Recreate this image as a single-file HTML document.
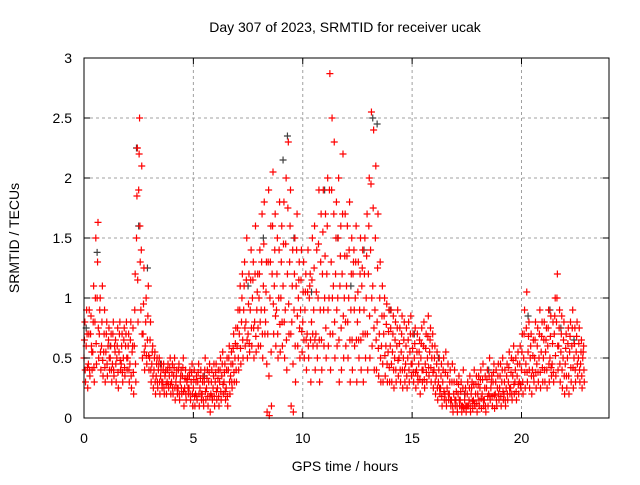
<!DOCTYPE html>
<html><head><meta charset="utf-8"><style>
body{margin:0;background:#fff;}
svg text{font-family:"Liberation Sans",sans-serif;font-size:14px;fill:#000;}
</style></head><body>
<svg id="chart" width="640" height="480" xmlns="http://www.w3.org/2000/svg">
<rect width="640" height="480" fill="#fff"/>
<g id="grid"></g>
<g id="marks"></g>
<rect x="84" y="58" width="525" height="360" fill="none" stroke="#000" stroke-width="1"/>
<g id="ticks"></g>
<text x="345" y="32" text-anchor="middle">Day 307 of 2023, SRMTID for receiver ucak</text>
<text x="345" y="471" text-anchor="middle">GPS time / hours</text>
<text x="19" y="238" text-anchor="middle" transform="rotate(-90 19 238)">SRMTID / TECUs</text>
</svg>
<script>
const xTicks=[0,5,10,15,20];
const yTicks=[0,0.5,1,1.5,2,2.5,3];
const yTickLabels=["0","0.5","1","1.5","2","2.5","3"];
const slotHours=0.1;
const redMid=[.5,.6,.45,.7,.55,.8,1.0,.7,.6,.55, .55,.6,.5,.45,.6,.5,.55,.45,.5,.6, .5,.45,.55,.6,1.5,1.9,.9,.7,.6,.65, .5,.45,.4,.35,.4,.35,.3,.35,.3,.35, .3,.35,.3,.25,.3,.35,.25,.3,.25,.3, .25,.2,.3,.25,.2,.3,.25,.3,.2,.25, .3,.25,.3,.35,.3,.25,.4,.35,.45,.5, .6,.7,.8,.9,.8,.7,.9,1.0,.8,.9, 1.0,.9,1.1,.8,.7,1.0,1.2,1.1,.9,1.0, 1.0,1.1,.9,1.2,1.3,.8,.9,1.1,1.0,.9, .8,.9,.7,1.0,.8,.9,.7,1.0,.9,1.2, 1.0,1.2,1.0,1.3,1.1,1.2,1.0,1.1,1.2,1.0, 1.1,1.0,.9,1.2,1.0,.8,.9,1.1,.9,1.0, 1.2,1.4,1.1,.9,.8,.7,.6,.7,.6,.55, .6,.55,.5,.6,.5,.55,.5,.45,.5,.55, .45,.5,.4,.45,.5,.4,.45,.5,.55,.5, .4,.35,.3,.25,.3,.2,.25,.2,.15,.2, .15,.2,.15,.1,.15,.1,.15,.2,.15,.2, .2,.25,.2,.15,.25,.2,.25,.3,.2,.25, .25,.3,.2,.25,.3,.25,.35,.3,.35,.3, .4,.5,.45,.55,.5,.4,.5,.45,.5,.55, .5,.55,.6,.5,.45,.7,.8,.6,.55,.5, .45,.5,.55,.6,.5,.55,.5,.45,.5];
const redHigh=[.8,.7,.9,.6,1.1,1.5,1.63,1.0,1.1,.9, .8,.75,.7,.8,.65,.75,.8,.7,.75,.8, .7,.8,.75,1.2,2.25,2.5,2.1,1.25,1.0,1.1, .8,.6,.55,.5,.5,.45,.45,.4,.45,.5, .45,.5,.4,.45,.4,.5,.4,.35,.4,.45, .4,.35,.45,.4,.35,.5,.4,.45,.4,.45, .45,.4,.5,.55,.45,.5,.6,.55,.7,.75, .9,1.1,1.2,1.3,1.5,1.2,1.4,1.3,1.6,1.2, 1.4,1.7,1.8,1.3,1.9,1.6,2.05,1.7,1.5,1.8, 1.6,1.8,2.0,2.3,1.9,1.4,1.5,1.7,1.3,1.4, 1.3,1.2,1.4,1.2,1.5,1.6,1.4,1.9,1.7,1.9, 1.7,2.0,2.87,2.5,2.3,1.8,2.0,1.6,2.2,1.7, 1.6,1.8,1.5,1.4,1.6,1.3,1.5,1.4,1.5,1.7, 2.0,2.55,2.4,2.1,1.7,1.3,1.1,1.0,.95,.9, .9,.85,.8,.9,.75,.85,.8,.75,.8,.85, .7,.75,.7,.65,.75,.8,.7,.85,.75,.7, .6,.55,.5,.45,.5,.55,.45,.4,.45,.4, .3,.35,.3,.4,.25,.3,.35,.3,.4,.35, .35,.4,.45,.35,.4,.5,.35,.45,.4,.45, .45,.5,.4,.45,.55,.5,.6,.5,.55,.6, .7,.9,1.05,.8,.7,.65,.8,.75,.9,.8, .8,.75,.9,.85,.8,1.0,1.2,.9,.85,.8, .7,.75,.8,.9,.75,.8,.75,.65,.6];
const redLow=[.3,.25,.35,.4,.3,.45,.5,.4,.35,.3, .35,.4,.3,.35,.3,.25,.4,.3,.35,.4, .3,.25,.2,.3,.8,1.3,.5,.4,.45,.4, .3,.25,.2,.25,.2,.25,.2,.2,.25,.2, .2,.15,.2,.15,.2,.1,.15,.2,.15,.1, .1,.15,.1,.15,.1,.15,.1,.05,.15,.1, .15,.1,.15,.2,.15,.1,.2,.25,.3,.3, .4,.45,.5,.6,.5,.55,.6,.5,.55,.6, .6,.5,.7,.05,.02,.1,.7,.6,.5,.55, .6,.5,.4,.7,.1,.05,.3,.6,.5,.55, .5,.4,.5,.3,.6,.4,.5,.3,.4,.6, .5,.6,.4,.7,.5,.6,.3,.4,.5,.6, .5,.3,.4,.6,.3,.5,.4,.3,.5,.4, .5,.6,.4,.4,.35,.3,.3,.35,.3,.3, .3,.25,.3,.35,.3,.25,.3,.25,.3,.35, .3,.25,.3,.2,.3,.25,.3,.35,.3,.25, .2,.15,.2,.1,.15,.1,.15,.1,.05,.1, .05,.1,.05,.08,.05,.1,.05,.08,.1,.05, .1,.08,.1,.05,.1,.15,.1,.08,.1,.15, .1,.15,.1,.15,.2,.15,.2,.15,.2,.25, .2,.25,.3,.25,.2,.3,.25,.3,.25,.3, .3,.25,.3,.35,.3,.35,.4,.3,.25,.2, .25,.2,.3,.25,.3,.35,.3,.25,.3];
const redUpper=[.65,.9,.7,.85,.8,1.0,1.3,.9,.8,.7, .7,.65,.6,.7,.55,.6,.7,.6,.65,.7, .6,.65,.6,.9,1.85,2.2,1.4,.95,.8,.85, .65,.55,.5,.45,.45,.4,.4,.38,.4,.42, .38,.42,.35,.4,.35,.42,.33,.32,.35,.38, .32,.3,.38,.33,.3,.4,.33,.38,.3,.35, .38,.33,.4,.45,.38,.4,.5,.45,.58,.62, .75,.9,1.0,1.1,1.15,.95,1.15,1.15,1.2,1.05, 1.2,1.3,1.45,1.05,1.3,1.3,1.6,1.4,1.2,1.4, 1.3,1.45,1.45,1.75,1.6,1.1,1.2,1.4,1.15,1.15, 1.05,1.05,1.05,1.1,1.15,1.25,1.05,1.45,1.3,1.55, 1.35,1.6,1.9,1.9,1.7,1.5,1.5,1.35,1.7,1.35, 1.35,1.4,1.2,1.3,1.3,1.05,1.2,1.25,1.2,1.35, 1.6,1.95,1.75,1.5,1.25,1.0,.85,.85,.78,.72, .75,.7,.65,.75,.62,.7,.65,.6,.65,.7, .58,.62,.55,.55,.62,.6,.58,.68,.65,.6, .5,.45,.4,.35,.4,.38,.35,.3,.3,.3, .22,.28,.22,.25,.2,.2,.25,.25,.28,.28, .28,.32,.32,.25,.32,.35,.3,.38,.3,.35, .35,.4,.3,.35,.42,.38,.48,.4,.45,.45, .55,.7,.75,.68,.6,.52,.65,.6,.7,.68, .65,.65,.75,.68,.62,.85,1.0,.75,.7,.65, .58,.62,.68,.75,.62,.68,.62,.55,.55];
const redLower=[.4,.42,.4,.55,.42,.62,.75,.55,.48,.42, .45,.5,.4,.4,.45,.38,.48,.38,.42,.5, .4,.35,.38,.45,1.15,1.6,.7,.55,.52,.52, .4,.35,.3,.3,.3,.3,.25,.28,.28,.28, .25,.25,.25,.2,.25,.22,.2,.25,.2,.2, .18,.18,.2,.2,.15,.22,.18,.18,.18,.18, .22,.18,.22,.28,.22,.18,.3,.3,.38,.4, .5,.58,.65,.75,.65,.62,.75,.75,.68,.75, .8,.7,.9,.45,.35,.55,.95,.85,.7,.78, .8,.8,.65,.95,.7,.45,.6,.85,.75,.72, .65,.65,.6,.65,.7,.65,.6,.65,.65,.9, .75,.9,.7,1.0,.8,.9,.65,.75,.85,.8, .8,.65,.65,.9,.65,.65,.65,.7,.7,.7, .85,1.0,.75,.65,.58,.5,.45,.52,.45,.42, .45,.4,.4,.48,.4,.4,.4,.35,.4,.45, .38,.38,.35,.32,.4,.32,.38,.42,.42,.38, .3,.25,.25,.18,.22,.15,.2,.15,.1,.15, .1,.15,.1,.09,.1,.1,.1,.14,.12,.12, .15,.16,.15,.1,.18,.18,.18,.19,.15,.2, .18,.22,.15,.2,.25,.2,.28,.22,.28,.28, .3,.38,.38,.4,.35,.35,.38,.38,.38,.42, .4,.4,.45,.42,.38,.52,.6,.45,.4,.35, .35,.35,.42,.42,.4,.45,.4,.35,.4];
const greyTimes=[0.1,0.6,1.2,2.4,2.5,2.9,3.5,5.5,7.5,8.2,9.1,9.3,9.6,10.4,11.0,11.6,12.2,12.8,13.2,13.4,14.0,15.1,16.2,17.4,18.5,20.3,21.3,21.8,22.4];
const greyValues=[0.75,1.38,0.6,2.25,1.6,1.25,0.45,0.35,1.1,1.5,2.15,2.35,1.5,1.05,1.9,1.5,1.1,1.4,2.5,2.45,0.9,0.7,0.5,0.2,0.4,0.85,0.9,0.75,0.65];

const X=h=>84+h*525/24;
const Y=v=>418-v*120;
const NS="http://www.w3.org/2000/svg";
const grid=document.getElementById('grid'),ticks=document.getElementById('ticks'),marks=document.getElementById('marks');
function mk(tag,at,parent){const e=document.createElementNS(NS,tag);for(const k in at)e.setAttribute(k,at[k]);parent.appendChild(e);return e;}
xTicks.forEach(t=>{
  const x=X(t);
  if(t>0){const g=mk('line',{x1:x,y1:58,x2:x,y2:418,stroke:'#a0a0a0','stroke-dasharray':'3,3'},grid);
  
  }
  mk('line',{x1:x,y1:418,x2:x,y2:412,stroke:'#000'},ticks);
  mk('line',{x1:x,y1:58,x2:x,y2:64,stroke:'#000'},ticks);
  const l=mk('text',{x:x,y:443,'text-anchor':'middle'},ticks);l.textContent=t;
  
  
});
yTicks.forEach((t,i)=>{
  const y=Y(t);
  if(t>0&&t<3){const g=mk('line',{x1:84,y1:y,x2:609,y2:y,stroke:'#a0a0a0','stroke-dasharray':'3,3'},grid);
  
  }
  mk('line',{x1:84,y1:y,x2:90,y2:y,stroke:'#000'},ticks);
  mk('line',{x1:609,y1:y,x2:603,y2:y,stroke:'#000'},ticks);
  const l=mk('text',{x:72,y:y+5,'text-anchor':'end'},ticks);l.textContent=yTickLabels[i];
  
  
});
function plus(h,v,color,name){
  const x=X(h),y=Y(v);
  const p=mk('path',{d:`M${x-3.5} ${y}H${x+3.5}M${x} ${y-3.5}V${y+3.5}`,stroke:color,'stroke-width':1.2,fill:'none'},marks);
  
  
}
greyTimes.forEach((t,i)=>plus(t,greyValues[i],'#404040','grey-point'));
redMid.forEach((v,i)=>plus(i*slotHours,v,'#ff0000','red-point'));
redHigh.forEach((v,i)=>plus(i*slotHours+0.04,v,'#ff0000','red-point'));
redLow.forEach((v,i)=>plus(i*slotHours+0.07,v,'#ff0000','red-point'));
redUpper.forEach((v,i)=>plus(i*slotHours+0.02,v,'#ff0000','red-point'));
redLower.forEach((v,i)=>plus(i*slotHours+0.055,v,'#ff0000','red-point'));
</script>
</body></html>
